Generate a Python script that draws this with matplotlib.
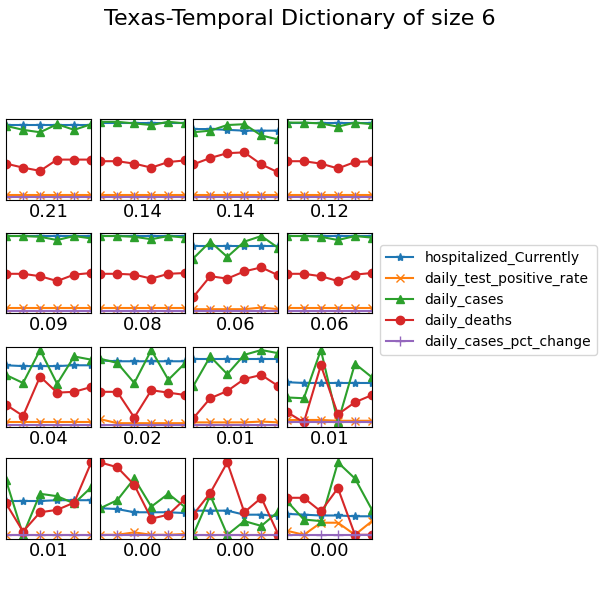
import matplotlib
matplotlib.use("Agg")
import matplotlib.pyplot as plt

series_names = ["hospitalized_Currently", "daily_test_positive_rate", "daily_cases",
                "daily_deaths", "daily_cases_pct_change"]
colors = ["#1f77b4", "#ff7f0e", "#2ca02c", "#d62728", "#9467bd"]
markers = ["*", "x", "^", "o", "+"]
scores = ["0.21", "0.14", "0.14", "0.12", "0.09", "0.08", "0.06", "0.06",
          "0.04", "0.02", "0.01", "0.01", "0.01", "0.00", "0.00", "0.00"]

hosp = [
 [0.93]*6, [0.96]*6, [0.88,0.88,0.87,0.86,0.86,0.86], [0.96]*6,
 [0.96]*6, [0.96]*6, [0.84]*6, [0.96]*6,
 [0.77,0.76,0.76,0.76,0.77,0.77], [0.83,0.82,0.82,0.82,0.82,0.82], [0.85]*6, [0.56,0.55,0.55,0.55,0.55,0.55],
 [0.47,0.47,0.47,0.48,0.48,0.48], [0.38,0.37,0.33,0.33,0.33,0.32], [0.35,0.35,0.35,0.30,0.30,0.28], [0.31,0.30,0.29,0.29,0.28,0.28],
]
rate = [
 [0.06]*6, [0.06]*6, [0.06]*6, [0.06]*6,
 [0.06]*6, [0.06]*6, [0.05,0.05,0.05,0.05,0.07,0.05], [0.06]*6,
 [0.06]*6, [0.1,0.05,0.05,0.05,0.05,0.05], [0.06,0.06,0.06,0.06,0.07,0.06], [0.09,0.09,0.09,0.08,0.08,0.08],
 [0.05]*6, [0.05,0.05,0.08,0.05,0.05,0.06], [0.05]*6, [0.1,0.05,0.2,0.2,0.05,0.22],
]
cases = [
 [0.92,0.87,0.84,0.94,0.87,0.94], [0.97,0.97,0.95,0.93,0.97,0.95], [0.84,0.86,0.93,0.94,0.80,0.75], [0.96,0.96,0.95,0.91,0.96,0.94],
 [0.96,0.96,0.95,0.91,0.96,0.93], [0.96,0.96,0.95,0.92,0.96,0.94], [0.68,0.89,0.70,0.89,0.96,0.81], [0.96,0.96,0.95,0.91,0.96,0.94],
 [0.65,0.55,0.96,0.54,0.88,0.84], [0.85,0.80,0.55,0.96,0.59,0.80], [0.51,0.88,0.66,0.90,0.96,0.92], [0.37,0.36,0.96,0.06,0.79,0.62],
 [0.73,0.05,0.56,0.53,0.44,0.64], [0.38,0.48,0.75,0.40,0.56,0.39], [0.05,0.54,0.05,0.22,0.16,0.34], [0.47,0.24,0.22,0.95,0.75,0.36],
]
deaths = [
 [0.45,0.40,0.36,0.50,0.50,0.50], [0.48,0.48,0.45,0.40,0.47,0.49], [0.44,0.52,0.58,0.59,0.44,0.34], [0.48,0.48,0.45,0.39,0.47,0.48],
 [0.49,0.49,0.46,0.40,0.48,0.50], [0.49,0.49,0.48,0.43,0.49,0.50], [0.20,0.46,0.43,0.52,0.57,0.47], [0.49,0.49,0.46,0.40,0.48,0.50],
 [0.28,0.14,0.63,0.43,0.44,0.50], [0.44,0.44,0.12,0.46,0.43,0.40], [0.11,0.36,0.45,0.60,0.65,0.51], [0.19,0.06,0.77,0.16,0.31,0.40],
 [0.44,0.09,0.33,0.36,0.45,0.95], [0.95,0.89,0.67,0.25,0.30,0.50], [0.30,0.57,0.95,0.33,0.51,0.05], [0.51,0.51,0.34,0.63,0.05,0.05],
]
pct = [[0.03]*6]*11 + [[0.06]*6] + [[0.05]*6]*4

fig = plt.figure(figsize=(6, 6), dpi=100)
fig.suptitle("Texas-Temporal Dictionary of size 6", fontsize=16, y=0.985)
lefts = [0.010, 0.167, 0.322, 0.478]
bottoms = [0.667, 0.478, 0.288, 0.102]
w, h = 0.142, 0.134
x = list(range(6))
for i in range(16):
    r, c = divmod(i, 4)
    ax = fig.add_axes([lefts[c], bottoms[r], w, h])
    for k, data in enumerate([hosp, rate, cases, deaths, pct]):
        ax.plot(x, data[i], color=colors[k], marker=markers[k], label=series_names[k],
                markersize=6 if k != 4 else 7, linewidth=1.5)
    ax.set_xlim(0, 5)
    ax.set_ylim(0, 1)
    ax.set_xticks([])
    ax.set_yticks([])
    ax.set_xlabel(scores[i], fontsize=13, labelpad=2)
    if i == 7:
        handles, labels = ax.get_legend_handles_labels()
fig.legend(handles, labels, loc="center left", bbox_to_anchor=(0.622, 0.5), fontsize=10)
fig.savefig("out.png", dpi=100)
